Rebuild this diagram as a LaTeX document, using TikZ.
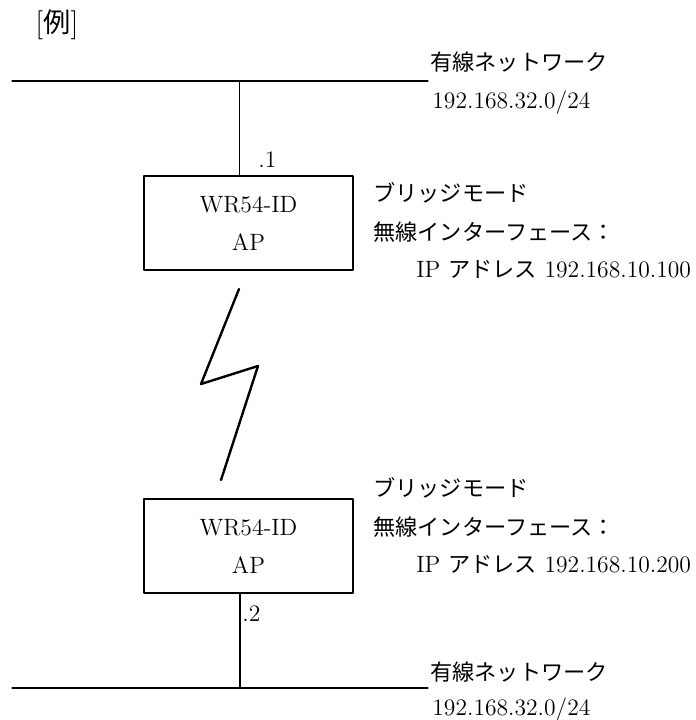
\documentclass[tikz,border=0pt]{standalone}
\usepackage{fontspec}
\newfontfamily\cjk[Scale=0.94]{Noto Sans CJK JP}
\begin{document}
\begin{tikzpicture}[x=0.5pt,y=-0.5pt,line join=round,line cap=round,font=\fontsize{11.8}{14}\selectfont,
	ap/.style={draw,line width=0.65pt,minimum width=104.5pt,minimum height=47pt,align=center},
	lbl/.style={anchor=west,inner sep=0pt}]
	\useasboundingbox (0,0) rectangle (696,720);
	\def\gap{5pt}
	\node[lbl,font=\fontsize{14.5}{16}\selectfont] (ex) at (35,25) {[{\cjk 例}]};
	\node[ap] (ap_1) at (248.5,223) {WR54-ID\\[\gap]AP};
	\node[ap] (ap_2) at (248.5,546) {WR54-ID\\[\gap]AP};
	\path
	(12,81) coordinate (L_1) (428,81) coordinate (R_1) (239.5,81) coordinate (T_1)
	(12,688) coordinate (L_2) (428,688) coordinate (R_2) (240,688) coordinate (T_2)
	(239,289) coordinate (Z_1) (201,384) coordinate (Z_2)
	(258,366) coordinate (Z_3) (221,480) coordinate (Z_4)
	;
	\draw[line width=0.65pt]
	(L_1)--(R_1) (T_1)--(T_1 |- ap_1.north)
	(L_2)--(R_2) (T_2)--(T_2 |- ap_2.south)
	;
	\draw[line width=1.2pt] (Z_1)--(Z_2)--(Z_3)--(Z_4);
	% addresses on the links
	\node[lbl] (a_1) at (258,160) {.1};
	\node[lbl] (a_2) at (242,614) {.2};
	% wired networks
	\node[lbl] (net_1) at (430,62) {\cjk 有線ネットワーク};
	\node[lbl] (ip_1) at (432,103) {192.168.32.0/24};
	\node[lbl] (net_2) at (430,672) {\cjk 有線ネットワーク};
	\node[lbl] (ip_2) at (432,710) {192.168.32.0/24};
	% bridge settings
	\foreach \n/\y/\ip in {1/193/100,2/488/200}{
		\node[lbl] (mode_\n) at (373,\y) {\cjk ブリッジモード};
		\node[lbl] (wif_\n) at (373,\y+39) {\cjk 無線インターフェース：};
		\node[lbl] (wip_\n) at (416,\y+76) {IP {\cjk アドレス} 192.168.10.\ip};
	}
\end{tikzpicture}
\end{document}
